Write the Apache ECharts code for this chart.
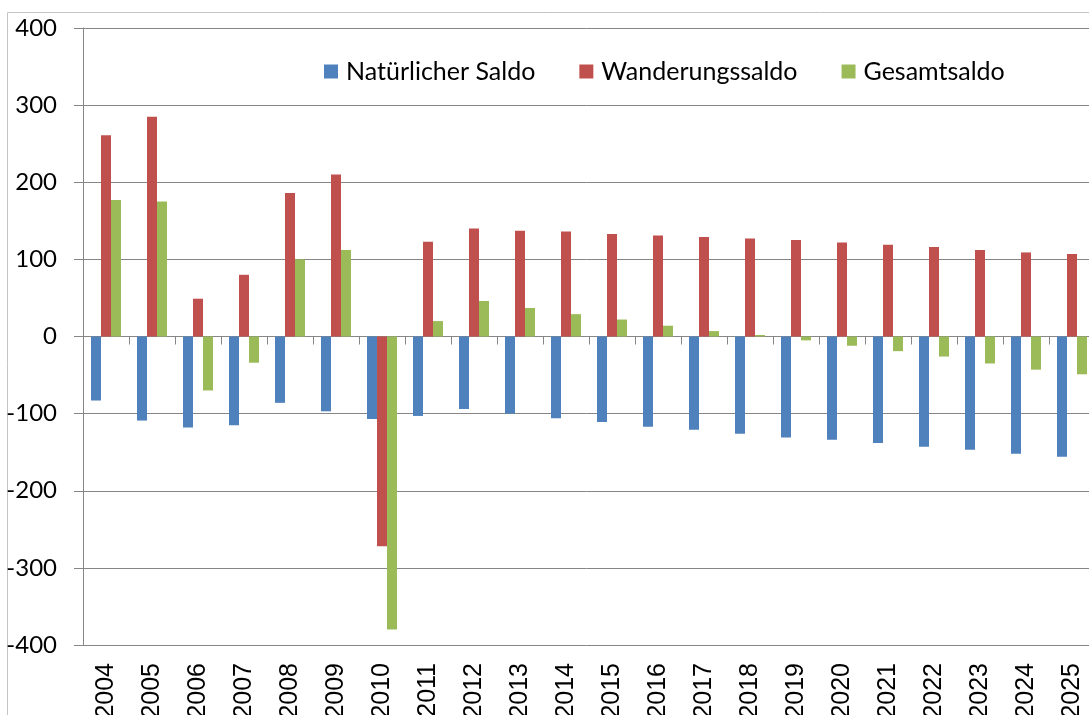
<!DOCTYPE html>
<html>
<head>
<meta charset="utf-8">
<script src="https://cdn.jsdelivr.net/npm/echarts@6/dist/echarts.min.js"></script>
<style>
  html, body { margin: 0; padding: 0; background: #fff; }
  #chart { width: 1089px; height: 715px; }
</style>
</head>
<body>
<div id="chart"></div>
<script>
// Bevölkerungsbewegung: natürlicher Saldo, Wanderungssaldo, Gesamtsaldo
const years = ['2004','2005','2006','2007','2008','2009','2010','2011','2012','2013','2014',
               '2015','2016','2017','2018','2019','2020','2021','2022','2023','2024','2025'];
const natuerlicherSaldo = [-83, -109, -118, -115, -86, -97, -107, -103, -94, -100, -106,
                           -111, -117, -121, -126, -131, -134, -138, -143, -147, -152, -156];
const wanderungssaldo   = [261, 285, 49, 80, 186, 210, -272, 123, 140, 137, 136,
                           133, 131, 129, 127, 125, 122, 119, 116, 112, 109, 107];
const gesamtsaldo       = [177, 175, -70, -34, 100, 112, -380, 20, 46, 37, 29,
                           22, 14, 7, 2, -5, -12, -19, -26, -35, -43, -49];
const yTicks = { min: -400, max: 400, interval: 100 };

const chart = echarts.init(document.getElementById('chart'), null, { renderer: 'canvas' });
const axisGray = '#868686';
const calibriLike = 'Lato, "Open Sans", sans-serif';

chart.setOption({
  animation: false,
  backgroundColor: '#ffffff',
  graphic: [{
    type: 'rect',
    silent: true,
    shape: { x: 7.5, y: 12.5, width: 1200, height: 800 },
    style: { fill: 'none', stroke: '#c4c4c4', lineWidth: 1 }
  }],
  legend: {
    left: 324,
    top: 59,
    padding: 0,
    itemWidth: 14,
    itemHeight: 14,
    itemGap: 44,
    icon: 'rect',
    textStyle: { fontFamily: calibriLike, fontSize: 25, color: '#000', lineHeight: 14, padding: [0, 0, 0, 3] },
    data: ['Natürlicher Saldo', 'Wanderungssaldo', 'Gesamtsaldo']
  },
  grid: { left: 83, top: 28, width: 1012, height: 617, containLabel: false, outerBoundsMode: 'none' },
  xAxis: [{
    type: 'category',
    data: years,
    axisLine: { onZero: true, lineStyle: { color: axisGray, width: 1 } },
    axisTick: { show: true, alignWithLabel: false, length: 8, inside: false, lineStyle: { color: axisGray } },
    axisLabel: { show: false },
    splitLine: { show: false }
  }, {
    type: 'category',
    data: years,
    position: 'bottom',
    axisLine: { show: false, onZero: false },
    axisTick: { show: false },
    axisLabel: {
      show: true, interval: 0, rotate: 90, margin: 18,
      fontFamily: '"Liberation Sans", Arial, sans-serif', fontSize: 25, color: '#000'
    },
    splitLine: { show: false }
  }],
  yAxis: {
    type: 'value',
    min: yTicks.min,
    max: yTicks.max,
    interval: yTicks.interval,
    axisLine: { show: true, lineStyle: { color: axisGray } },
    axisTick: { show: true, length: 9, lineStyle: { color: axisGray } },
    axisLabel: { margin: 26, fontFamily: calibriLike, fontSize: 24, color: '#000' },
    splitLine: { show: true, lineStyle: { color: axisGray, width: 1 } }
  },
  series: [{
    name: 'Natürlicher Saldo',
    type: 'bar',
    xAxisIndex: 0,
    data: natuerlicherSaldo,
    barWidth: 10,
    barGap: '0%',
    itemStyle: { color: '#4f81bd' }
  }, {
    name: 'Wanderungssaldo',
    type: 'bar',
    xAxisIndex: 0,
    data: wanderungssaldo,
    barWidth: 10,
    barGap: '0%',
    itemStyle: { color: '#c0504d' }
  }, {
    name: 'Gesamtsaldo',
    type: 'bar',
    xAxisIndex: 0,
    data: gesamtsaldo,
    barWidth: 10,
    barGap: '0%',
    itemStyle: { color: '#9bbb59' }
  }]
});
</script>
</body>
</html>
